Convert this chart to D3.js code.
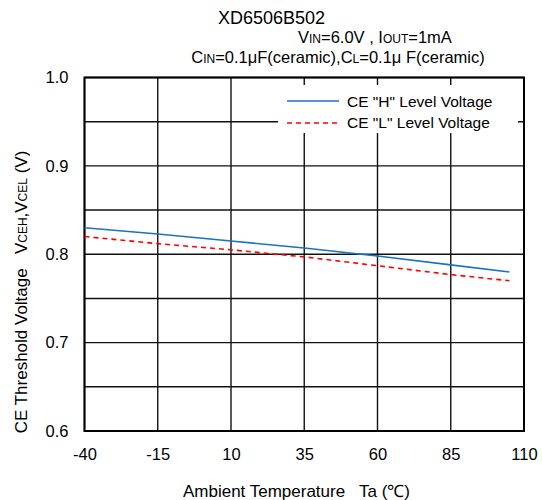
<!DOCTYPE html>
<html><head><meta charset="utf-8">
<script src="https://cdn.jsdelivr.net/npm/d3@7"></script>
<style>body{margin:0;background:#fff}svg{font-family:"Liberation Sans",Arial,sans-serif}</style>
</head><body><svg id="c" width="542" height="500"></svg>
<script>
const temps = [-40, -15, 10, 35, 60, 85, 105];
const vceh = [0.830, 0.823, 0.815, 0.807, 0.798, 0.788, 0.780];
const vcel = [0.820, 0.812, 0.805, 0.797, 0.787, 0.777, 0.770];
const xTicks = [-40, -15, 10, 35, 60, 85, 110];
const yTicks = [0.6, 0.7, 0.8, 0.9, 1.0];
const yGrid = [0.6, 0.65, 0.7, 0.75, 0.8, 0.85, 0.9, 0.95, 1.0];
const seriesNames = ['CE "H" Level Voltage', 'CE "L" Level Voltage'];

const svg = d3.select("#c");
const L = 84.5, R = 524, T = 77.5, B = 431;
const x = d3.scaleLinear().domain([-40, 110]).range([L, R]);
const y = d3.scaleLinear().domain([0.6, 1.0]).range([B, T]);

// grid
svg.append("g").selectAll("line").data(xTicks).join("line")
  .attr("x1", d => x(d)).attr("x2", d => x(d)).attr("y1", T).attr("y2", B)
  .attr("stroke", "#111").attr("stroke-width", 1.4);
svg.append("g").selectAll("line").data(yGrid).join("line")
  .attr("y1", d => y(d)).attr("y2", d => y(d)).attr("x1", L).attr("x2", R)
  .attr("stroke", "#111").attr("stroke-width", 1.4);

// legend box (white background)
svg.append("rect").attr("x", 278).attr("y", 85).attr("width", 240).attr("height", 48).attr("fill", "#fff");

// border
svg.append("rect").attr("x", L).attr("y", T).attr("width", R - L).attr("height", B - T)
  .attr("fill", "none").attr("stroke", "#000").attr("stroke-width", 2);

// axes labels
const xAxis = d3.axisBottom(x).tickValues(xTicks).tickSize(0).tickPadding(0).tickFormat(d => String(d));
const gx = svg.append("g").attr("transform", `translate(0,${B})`).call(xAxis);
gx.select(".domain").remove();
gx.selectAll("text").attr("dy", null).attr("y", 29).attr("font-size", 16.5).attr("fill", "#000")
  .attr("font-family", "Liberation Sans, Arial, sans-serif");

const yAxis = d3.axisLeft(y).tickValues(yTicks).tickSize(0).tickPadding(16).tickFormat(d3.format(".1f"));
const gy = svg.append("g").attr("transform", `translate(${L},0)`).call(yAxis);
gy.select(".domain").remove();
gy.selectAll("text").attr("font-size", 16.5).attr("fill", "#000").attr("dy", "0.32em")
  .attr("font-family", "Liberation Sans, Arial, sans-serif");

// lines
const line = d3.line().x((d, i) => x(temps[i])).y(d => y(d));
svg.append("path").datum(vceh).attr("d", line).attr("fill", "none")
  .attr("stroke", "#1a72c2").attr("stroke-width", 1.6);
svg.append("path").datum(vcel).attr("d", line).attr("fill", "none")
  .attr("stroke", "#ff0000").attr("stroke-width", 1.6).attr("stroke-dasharray", "5,4");

// legend
const leg = svg.append("g").attr("font-size", 15.5);
leg.append("line").attr("x1", 287).attr("x2", 339).attr("y1", 101).attr("y2", 101)
  .attr("stroke", "#1a72c2").attr("stroke-width", 1.6);
leg.append("line").attr("x1", 287).attr("x2", 339).attr("y1", 123).attr("y2", 123)
  .attr("stroke", "#ff0000").attr("stroke-width", 1.6).attr("stroke-dasharray", "5,4");
leg.append("text").attr("x", 347).attr("y", 106.5).text(seriesNames[0]);
leg.append("text").attr("x", 347).attr("y", 128).text(seriesNames[1]);

// titles
svg.append("text").attr("x", 271.5).attr("y", 23.5).attr("text-anchor", "middle").attr("font-size", 18).text("XD6506B502");
const t2 = svg.append("text").attr("x", 298).attr("y", 43).attr("font-size", 16.5);
t2.append("tspan").text("V");
t2.append("tspan").attr("font-size", 12).text("IN");
t2.append("tspan").text("=6.0V , I");
t2.append("tspan").attr("font-size", 12).text("OUT");
t2.append("tspan").text("=1mA");
const t3 = svg.append("text").attr("x", 338).attr("y", 63).attr("text-anchor", "middle").attr("font-size", 16.5);
t3.append("tspan").text("C");
t3.append("tspan").attr("font-size", 12).text("IN");
t3.append("tspan").text("=0.1μF(ceramic),C");
t3.append("tspan").attr("font-size", 12).text("L");
t3.append("tspan").text("=0.1μ F(ceramic)");

// x label
svg.append("text").attr("x", 296.5).attr("y", 497).attr("text-anchor", "middle").attr("font-size", 17)
  .attr("xml:space", "preserve").text("Ambient Temperature   Ta (℃)");

// y label
const yl = svg.append("text").attr("transform", "translate(27,292) rotate(-90)").attr("text-anchor", "middle")
  .attr("font-size", 17).attr("xml:space", "preserve");
yl.append("tspan").text("CE Threshold Voltage   V");
yl.append("tspan").attr("font-size", 12).text("CEH");
yl.append("tspan").text(",V");
yl.append("tspan").attr("font-size", 12).text("CEL");
yl.append("tspan").text(" (V)");
</script></body></html>
